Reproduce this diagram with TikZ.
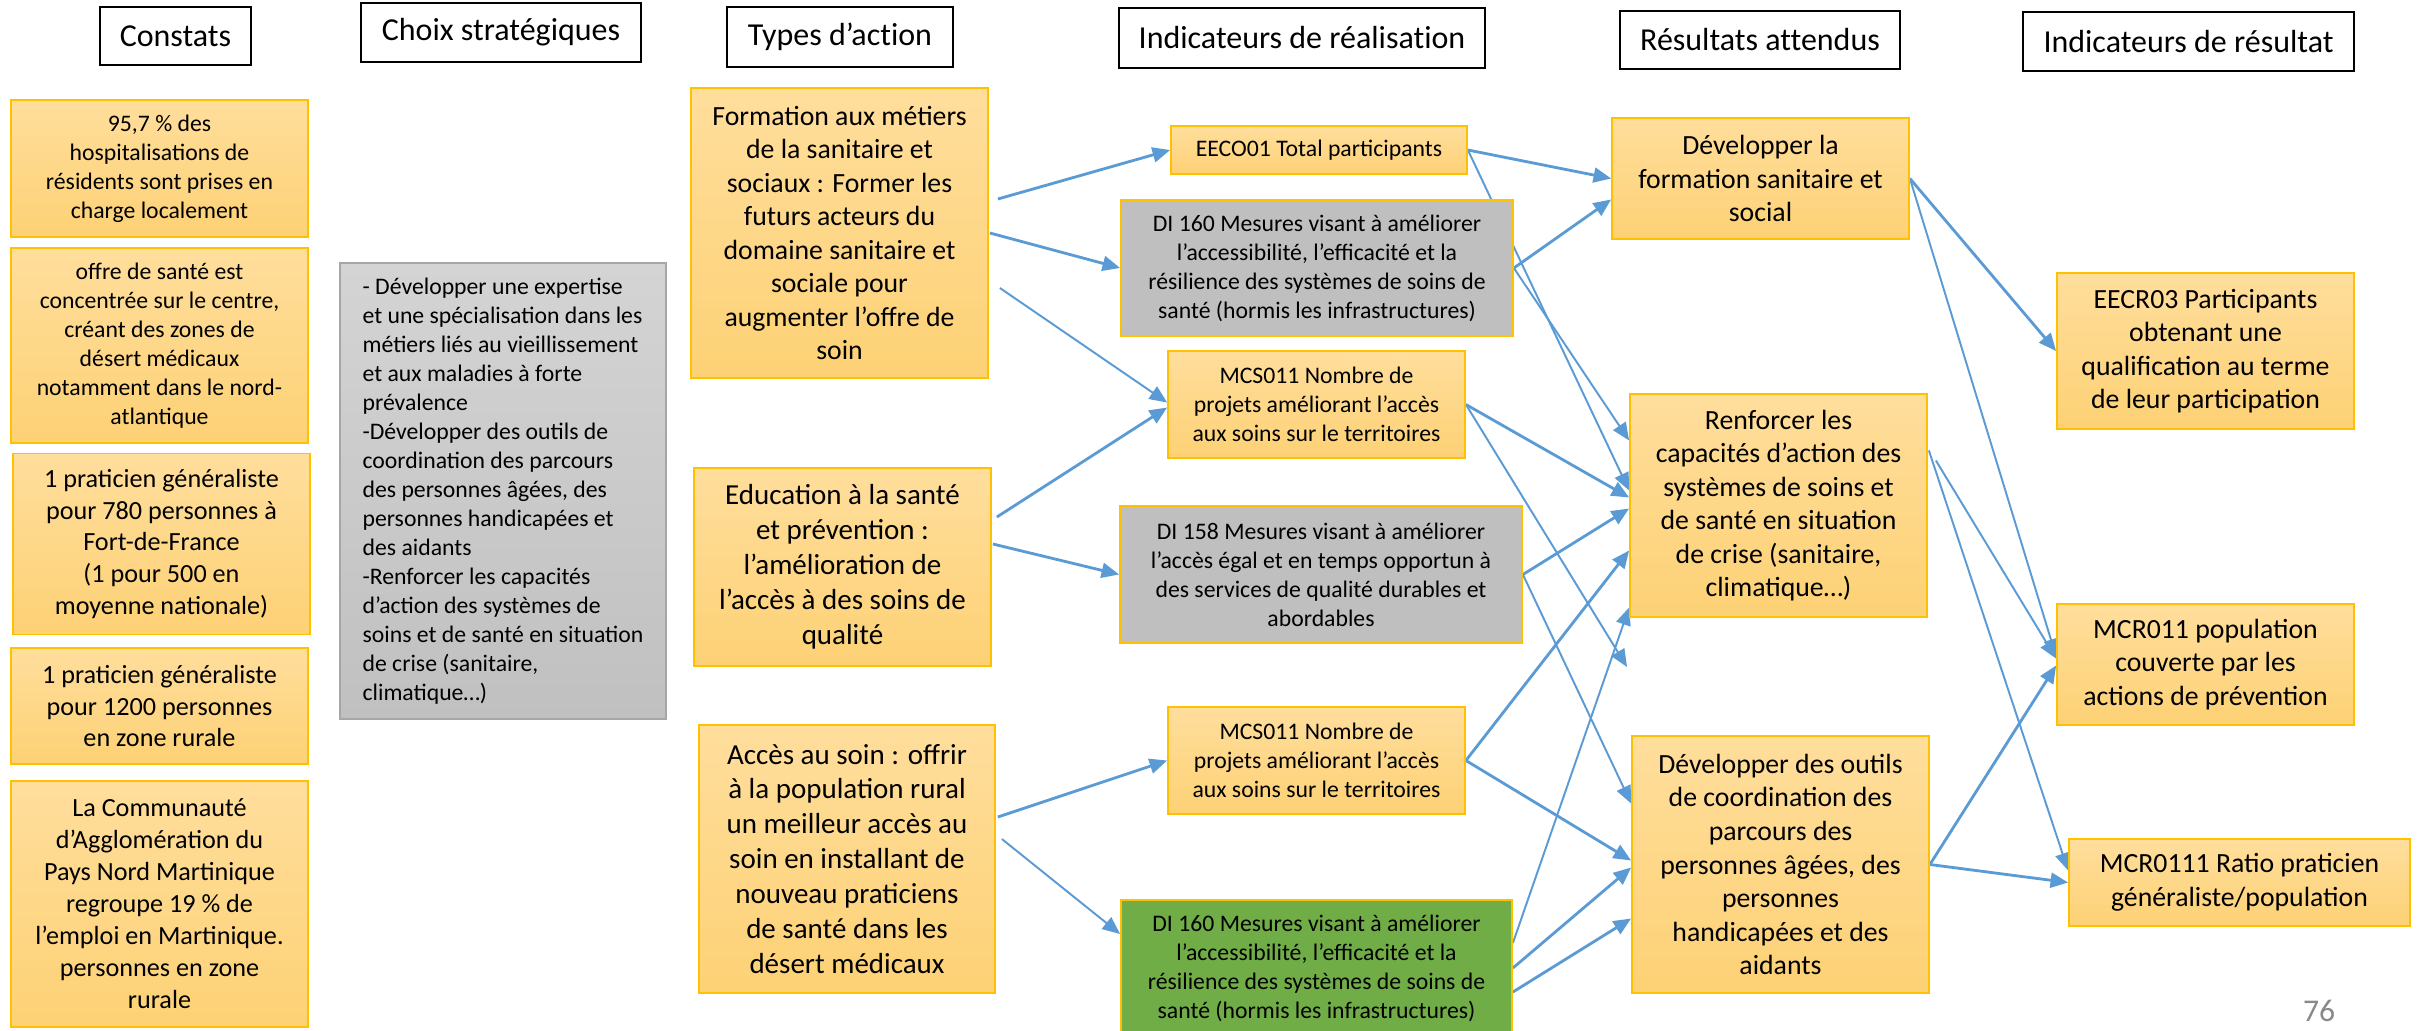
\documentclass[tikz,border=0pt]{standalone}
\usepackage{fontspec}
\setmainfont{Carlito}
\usetikzlibrary{%
  arrows.meta,%
  backgrounds%
}

\definecolor{bordor}{RGB}{255,192,0}
\definecolor{orclair}{RGB}{255,222,156}
\definecolor{orfonce}{RGB}{253,209,117}
\definecolor{grisind}{RGB}{191,191,191}
\definecolor{grisclair}{RGB}{212,212,212}
\definecolor{grisfonce}{RGB}{192,192,192}
\definecolor{grisbord}{RGB}{166,166,166}
\definecolor{vertind}{RGB}{112,173,71}
\definecolor{bleufl}{RGB}{91,155,213}
\definecolor{grisnum}{RGB}{137,137,137}

\tikzset{
  entete/.style={draw=black,line width=1.3pt,fill=white,inner sep=0pt,
    font=\fontsize{18.2}{21}\selectfont\addfontfeatures{Ligatures=CommonOff}},
  cadre/.style={draw=bordor,line width=1pt,align=center,inner sep=0pt},
  orange/.style={cadre,top color=orclair,bottom color=orfonce},
  indgris/.style={cadre,fill=grisind},
  indvert/.style={cadre,fill=vertind},
  txta/.style={font=\fontsize{13.5}{16.5}\selectfont},
  txtb/.style={font=\fontsize{14.9}{18.2}\selectfont},
  txtc/.style={font=\fontsize{15.8}{19.1}\selectfont},
  txtd/.style={font=\fontsize{16.5}{19.9}\selectfont},
  fleche/.style={draw=bleufl,line width=1.6pt,-{Triangle[length=10pt,width=8.5pt]}},
  flechefine/.style={fleche,line width=1.1pt}
}

\begin{document}
\begin{tikzpicture}[x=0.2mm,y=-0.2mm]
  \useasboundingbox (0,0) rectangle (2425,1030);

  % titres des colonnes
  \node[entete,minimum width=30.2mm,minimum height=11.6mm] (hconstats) at (175.5,36) {Constats};
  \node[entete,minimum width=56mm,minimum height=11.8mm] (hchoix) at (501,32.5) {Choix stratégiques};
  \node[entete,minimum width=45.2mm,minimum height=12mm] (htypes) at (840,37) {Types d’action};
  \node[entete,minimum width=73.2mm,minimum height=12mm] (hreal) at (1302,38) {Indicateurs de réalisation};
  \node[entete,minimum width=56mm,minimum height=11.6mm] (hresult) at (1760,40) {Résultats attendus};
  \node[entete,minimum width=66.2mm,minimum height=11.8mm] (hindres) at (2188.5,41.5) {Indicateurs de résultat};

  % constats
  \node[orange,txta,minimum width=59.4mm,minimum height=27.4mm] (constat1) at (159.5,168.5)
    {95,7 \% des\\hospitalisations de\\résidents sont prises en\\charge localement};
  \node[orange,txta,minimum width=59.4mm,minimum height=39mm] (constat2) at (159.5,345.5)
    {offre de santé est\\concentrée sur le centre,\\créant des zones de\\désert médicaux\\notamment dans le nord-\\atlantique};
  \node[orange,txtb,minimum width=59.4mm,minimum height=36.2mm] (constat3) at (161.5,544)
    {1 praticien généraliste\\pour 780 personnes à\\Fort-de-France\\(1 pour 500 en\\moyenne nationale)};
  \node[orange,txtb,minimum width=59.4mm,minimum height=23.2mm] (constat4) at (159.5,706)
    {1 praticien généraliste\\pour 1200 personnes\\en zone rurale};
  \node[orange,txtb,minimum width=59.4mm,minimum height=49.2mm] (constat5) at (159.5,904)
    {La Communauté\\d’Agglomération du\\Pays Nord Martinique\\regroupe 19 \% de\\l’emploi en Martinique.\\personnes en zone\\rurale};

  % choix strategiques
  \node[draw=grisbord,line width=1pt,top color=grisclair,bottom color=grisfonce,txta,
    align=left,inner sep=0pt,minimum width=65.2mm,minimum height=91.2mm] (choix) at (503,491)
    {- Développer une expertise\\et une spécialisation dans les\\métiers liés au vieillissement\\et aux maladies à forte\\prévalence\\-Développer des outils de\\coordination des parcours\\des personnes âgées, des\\personnes handicapées et\\des aidants\\-Renforcer les capacités\\d’action des systèmes de\\soins et de santé en situation\\de crise (sanitaire,\\climatique…)};

  % types d'action
  \node[orange,txtc,minimum width=59.4mm,minimum height=58mm] (formation) at (839.5,233)
    {Formation aux métiers\\de la sanitaire et\\sociaux : Former les\\futurs acteurs du\\domaine sanitaire et\\sociale pour\\augmenter l’offre de\\soin};
  \node[orange,txtd,minimum width=59.4mm,minimum height=39.6mm] (education) at (842.5,567)
    {Education à la santé\\et prévention :\\l’amélioration de\\l’accès à des soins de\\qualité};
  \node[orange,txtd,minimum width=59.2mm,minimum height=53.6mm] (acces) at (847,859)
    {Accès au soin : offrir\\à la population rural\\un meilleur accès au\\soin en installant de\\nouveau praticiens\\de santé dans les\\désert médicaux};

  % indicateurs de realisation
  \node[orange,txta,minimum width=59.2mm,minimum height=9.6mm] (eeco) at (1319,150) {EECO01 Total participants};
  \node[indgris,txta,minimum width=78.4mm,minimum height=27.2mm] (dia) at (1317,268)
    {DI 160 Mesures visant à améliorer\\l’accessibilité, l’efficacité et la\\résilience des systèmes de soins de\\santé (hormis les infrastructures)};
  \node[orange,txta,minimum width=59.4mm,minimum height=21.4mm] (mcsa) at (1316.5,404.5)
    {MCS011 Nombre de\\projets améliorant l’accès\\aux soins sur le territoires};
  \node[indgris,txta,minimum width=80.4mm,minimum height=27.4mm] (dib) at (1321,574.5)
    {DI 158 Mesures visant à améliorer\\l’accès égal et en temps opportun à\\des services de qualité durables et\\abordables};
  \node[orange,txta,minimum width=59.4mm,minimum height=21.4mm] (mcsb) at (1316.5,760.5)
    {MCS011 Nombre de\\projets améliorant l’accès\\aux soins sur le territoires};
  \node[indvert,txta,minimum width=78.2mm,minimum height=27.2mm] (dic) at (1316.5,968)
    {DI 160 Mesures visant à améliorer\\l’accessibilité, l’efficacité et la\\résilience des systèmes de soins de\\santé (hormis les infrastructures)};

  % resultats attendus
  \node[orange,txtc,minimum width=59.4mm,minimum height=24.2mm] (devform) at (1760.5,178.5)
    {Développer la\\formation sanitaire et\\social};
  \node[orange,txtc,minimum width=59.4mm,minimum height=44.6mm] (renforcer) at (1778.5,505.5)
    {Renforcer les\\capacités d’action des\\systèmes de soins et\\de santé en situation\\de crise (sanitaire,\\climatique…)};
  \node[orange,txtc,minimum width=59.4mm,minimum height=51.4mm] (outils) at (1780.5,864.5)
    {Développer des outils\\de coordination des\\parcours des\\personnes âgées, des\\personnes\\handicapées et des\\aidants};

  % indicateurs de resultat
  \node[orange,txtc,minimum width=59.4mm,minimum height=31.2mm] (eecr) at (2205.5,351)
    {EECR03 Participants\\obtenant une\\qualification au terme\\de leur participation};
  \node[orange,txtc,minimum width=59.4mm,minimum height=24.2mm] (mcr) at (2205.5,664.5)
    {MCR011 population\\couverte par les\\actions de prévention};
  \node[orange,txtc,minimum width=68.2mm,minimum height=17.4mm] (mcrratio) at (2239.5,882.5)
    {MCR0111 Ratio praticien\\généraliste/population};

  \node[text=grisnum,font=\fontsize{18}{20}\selectfont] (page) at (2319,1011) {76};
  \coordinate (vide) at (1627,667);

  \begin{scope}[on background layer]
    \fill[white] (0,0) rectangle (2425,1030);
    % types d'action -> indicateurs de realisation
    \draw[fleche] ([shift={(9,-34)}]formation.east) -- (eeco.west);
    \draw[fleche] ([shift={(1,0)}]formation.east) -- (dia.west);
    \draw[flechefine] ([shift={(11,55)}]formation.east) -- ([shift={(0,-2)}]mcsa.west);
    \draw[fleche] ([shift={(5,-50)}]education.east) -- ([shift={(0,3)}]mcsa.west);
    \draw[fleche] ([shift={(1,-23)}]education.east) -- (dib.west);
    \draw[fleche] ([shift={(2,-42)}]acces.east) -- (mcsb.west);
    \draw[flechefine] ([shift={(6,-20)}]acces.east) -- ([shift={(0,-34)}]dic.west);
    % indicateurs de realisation -> resultats attendus
    \draw[fleche] (eeco.east) -- (devform.west);
    \draw[flechefine] (eeco.east) -- ([shift={(0,-15)}]renforcer.west);
    \draw[fleche] (dia.east) -- ([shift={(0,21)}]devform.west);
    \draw[flechefine] (dia.east) -- ([shift={(0,-65)}]renforcer.west);
    \draw[fleche] (mcsa.east) -- ([shift={(0,-8)}]renforcer.west);
    \draw[flechefine] (mcsa.east) -- (vide);
    \draw[fleche] (dib.east) -- ([shift={(0,3)}]renforcer.west);
    \draw[flechefine] (dib.east) -- ([shift={(0,-61)}]outils.west);
    \draw[fleche] (mcsb.east) -- ([shift={(0,45)}]renforcer.west);
    \draw[fleche] (mcsb.east) -- ([shift={(0,-4)}]outils.west);
    \draw[flechefine] ([shift={(0,-25)}]dic.east) -- ([shift={(0,102)}]renforcer.west);
    \draw[fleche] (dic.east) -- ([shift={(0,3)}]outils.west);
    \draw[fleche] ([shift={(0,24)}]dic.east) -- ([shift={(0,54)}]outils.west);
    % resultats attendus -> indicateurs de resultat
    \draw[fleche] (devform.east) -- (eecr.west);
    \draw[flechefine] (devform.east) -- ([shift={(0,-8)}]mcr.west);
    \draw[flechefine] ([shift={(1,-55)}]renforcer.east) -- ([shift={(0,-12)}]mcrratio.west);
    \draw[flechefine] ([shift={(8,-45)}]renforcer.east) -- ([shift={(0,-6)}]mcr.west);
    \draw[fleche] (outils.east) -- ([shift={(0,1)}]mcr.west);
    \draw[fleche] (outils.east) -- (mcrratio.west);
  \end{scope}
\end{tikzpicture}
\end{document}
